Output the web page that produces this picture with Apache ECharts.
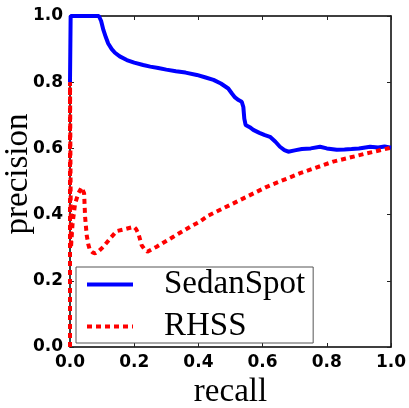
<!DOCTYPE html>
<html>
<head>
<meta charset="utf-8">
<script src="https://cdn.jsdelivr.net/npm/echarts@6/dist/echarts.min.js"></script>
<style>
  html, body { margin: 0; padding: 0; background: #fff; }
  #chart { width: 409px; height: 408px; }
</style>
</head>
<body>
<div id="chart"></div>
<script>
// Precision-recall curves: [recall, precision]
const seriesNames = ['SedanSpot', 'RHSS'];

const sedanSpot = [
  [0, 0.80], [0.002, 1.0], [0.09, 1.0], [0.097, 0.985], [0.104, 0.958],
  [0.112, 0.935], [0.119, 0.917], [0.13, 0.90], [0.14, 0.889], [0.155, 0.878],
  [0.177, 0.867], [0.2, 0.859], [0.228, 0.852], [0.25, 0.847], [0.275, 0.843],
  [0.3, 0.838], [0.33, 0.833], [0.36, 0.829], [0.395, 0.822], [0.42, 0.815],
  [0.447, 0.807], [0.47, 0.796], [0.493, 0.781], [0.505, 0.765], [0.514, 0.754],
  [0.525, 0.746], [0.535, 0.741], [0.54, 0.725], [0.543, 0.69], [0.547, 0.671],
  [0.56, 0.664], [0.571, 0.656], [0.59, 0.647], [0.607, 0.640], [0.623, 0.635],
  [0.64, 0.62], [0.654, 0.605], [0.668, 0.595], [0.68, 0.590], [0.70, 0.594],
  [0.722, 0.598], [0.75, 0.600], [0.779, 0.605], [0.80, 0.600], [0.831, 0.596],
  [0.855, 0.597], [0.877, 0.598], [0.90, 0.600], [0.935, 0.605], [0.96, 0.603],
  [0.98, 0.606], [1.0, 0.602]
];

const rhss = [
  [0, 0.0], [0, 0.8], [0.003, 0.30], [0.008, 0.373], [0.016, 0.434],
  [0.026, 0.464], [0.036, 0.482], [0.041, 0.478], [0.044, 0.464], [0.047, 0.394],
  [0.052, 0.338], [0.057, 0.310], [0.062, 0.293], [0.07, 0.286], [0.078, 0.283],
  [0.09, 0.29], [0.104, 0.303], [0.125, 0.328], [0.145, 0.350], [0.171, 0.356],
  [0.199, 0.363], [0.206, 0.356], [0.213, 0.343], [0.223, 0.308], [0.232, 0.295],
  [0.241, 0.288], [0.27, 0.303], [0.322, 0.333], [0.374, 0.363], [0.405, 0.379],
  [0.431, 0.397], [0.509, 0.434], [0.613, 0.484], [0.717, 0.525], [0.82, 0.560],
  [0.924, 0.585], [1.0, 0.602]
];

const tickValues = [0.0, 0.2, 0.4, 0.6, 0.8, 1.0];

const serif = 'Liberation Serif';
const tickFont = { fontFamily: 'DejaVu Sans', fontWeight: 'bold', fontSize: 17, color: '#000' };
const frameLine = { show: true, onZero: false, lineStyle: { color: '#000', width: 1.5 } };
const innerTick = { show: true, inside: true, length: 4, lineStyle: { color: '#222', width: 1 } };
const fmt = v => tickValues.includes(Math.round(v * 10) / 10) ? v.toFixed(1) : '';

const chart = echarts.init(document.getElementById('chart'), null, { renderer: 'canvas' });
chart.setOption({
  animation: false,
  backgroundColor: '#fff',
  grid: { left: 70, right: 18, top: 16, bottom: 61, containLabel: false, outerBoundsMode: 'none' },
  xAxis: [
    {
      type: 'value', min: 0, max: 1, interval: 0.2, position: 'bottom',
      name: 'recall', nameLocation: 'middle', nameGap: 29, nameMoveOverlap: false,
      nameTextStyle: { fontFamily: serif, fontSize: 33, color: '#000' },
      axisLine: frameLine, axisTick: innerTick, splitLine: { show: false },
      axisLabel: Object.assign({ margin: 7, formatter: fmt }, tickFont)
    },
    {
      type: 'value', min: 0, max: 1, interval: 0.2, position: 'top',
      axisLine: frameLine, axisTick: innerTick, splitLine: { show: false },
      axisLabel: { show: false }
    }
  ],
  yAxis: [
    {
      type: 'value', min: 0, max: 1, interval: 0.2, position: 'left',
      name: 'precision', nameLocation: 'middle', nameGap: 35, nameRotate: 90, nameMoveOverlap: false,
      nameTextStyle: { fontFamily: serif, fontSize: 33, color: '#000', padding: [0, 0, 0, 15] },
      axisLine: frameLine, axisTick: innerTick, splitLine: { show: false },
      axisLabel: Object.assign({ margin: 7, formatter: fmt }, tickFont)
    },
    {
      type: 'value', min: 0, max: 1, interval: 0.2, position: 'right',
      axisLine: frameLine, axisTick: innerTick, splitLine: { show: false },
      axisLabel: { show: false }
    }
  ],
  legend: {
    show: true,
    orient: 'vertical', left: 76, top: 267,
    padding: [1, 8, 0, 9], itemGap: 9,
    itemWidth: 46, itemHeight: 20,
    itemStyle: { opacity: 0 },
    lineStyle: { width: 4 },
    backgroundColor: '#fff', borderColor: '#555', borderWidth: 1, borderRadius: 0,
    textStyle: { fontFamily: serif, fontSize: 33, color: '#000', lineHeight: 30, padding: [0, 0, 0, 26] },
    data: seriesNames
  },
  series: [
    {
      name: seriesNames[0], type: 'line', data: sedanSpot, showSymbol: false, symbol: 'none',
      lineStyle: { color: '#0000ff', width: 4 }, itemStyle: { color: '#0000ff' }, z: 2
    },
    {
      name: seriesNames[1], type: 'line', data: rhss, showSymbol: false, symbol: 'none',
      lineStyle: { color: '#ff0000', width: 4, type: [5, 4] }, itemStyle: { color: '#ff0000' }, z: 3
    }
  ]
});
</script>
</body>
</html>
